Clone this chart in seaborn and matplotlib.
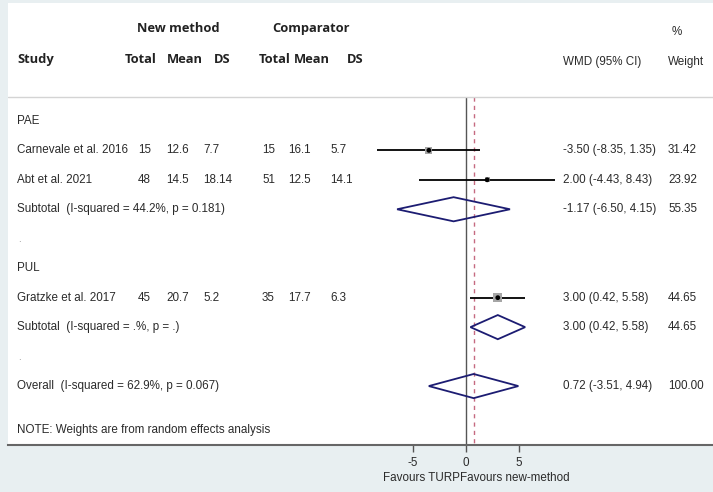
import seaborn as sns
import pandas as pd
import matplotlib.pyplot as plt
from matplotlib.patches import Polygon
import matplotlib.transforms as mtransforms

# study-level data
studies = ["Carnevale et al. 2016", "Abt et al. 2021", "Gratzke et al. 2017"]
groups = ["PAE", "PAE", "PUL"]
n_new = [15, 48, 45]
mean_new = ["12.6", "14.5", "20.7"]
sd_new = ["7.7", "18.14", "5.2"]
n_cmp = [15, 51, 35]
mean_cmp = ["16.1", "12.5", "17.7"]
sd_cmp = ["5.7", "14.1", "6.3"]
wmd = [-3.50, 2.00, 3.00]
ci_lo = [-8.35, -4.43, 0.42]
ci_hi = [1.35, 8.43, 5.58]
weight = [31.42, 23.92, 44.65]

# pooled estimates (PAE subtotal, PUL subtotal, overall)
pooled_labels = ["Subtotal  (I-squared = 44.2%, p = 0.181)",
                 "Subtotal  (I-squared = .%, p = .)",
                 "Overall  (I-squared = 62.9%, p = 0.067)"]
pooled_est = [-1.17, 3.00, 0.72]
pooled_lo = [-6.50, 0.42, -3.51]
pooled_hi = [4.15, 5.58, 4.94]
pooled_w = [55.35, 44.65, 100.00]

xticks = [-5, 0, 5]

BG = "#e8eff1"
NAVY = "#1c1c72"
TXT = "#2b2b2b"


def main():
    sns.set_style("white")
    plt.rcParams['font.family'] = ['Liberation Sans', 'DejaVu Sans']

    fig = plt.figure(figsize=(7.13, 4.92), dpi=100, facecolor=BG)
    ax = fig.add_axes([8 / 713, 47 / 492, 705 / 713, 442 / 492])
    ax.set_facecolor("white")

    # px -> effect units so that 0 sits at pixel 466, 10.6 px per unit
    def ux(p):
        return (p - 466) / 10.6

    ax.set_xlim(ux(8), ux(713))
    ax.set_ylim(11, -4)

    # row layout
    study_rows = [1, 2, 6]
    pooled_rows = [3, 7, 9]
    group_rows = {"PAE": 0, "PUL": 5}

    df = pd.DataFrame({"study": studies, "wmd": wmd, "lo": ci_lo,
                       "hi": ci_hi, "weight": weight, "row": study_rows})

    # reference lines
    ax.vlines(0, -0.8, 11, color="#555555", lw=1.0, zorder=1)
    ax.vlines(pooled_est[2], -0.8, 11, color="#c66a80", lw=1.0,
              linestyles=(0, (3, 3)), zorder=1)
    ax.axhline(-0.8, color="#d4d4d4", lw=1.0)

    # confidence intervals
    ax.hlines(df["row"], df["lo"], df["hi"], color="black", lw=1.3, zorder=2)
    sns.scatterplot(data=df, x="wmd", y="row", size="weight", sizes=(14, 42),
                    marker="s", color="#a6a6a6", edgecolor="none",
                    legend=False, ax=ax, zorder=3)
    sns.scatterplot(data=df, x="wmd", y="row", marker="o", s=12,
                    color="black", edgecolor="none", legend=False, ax=ax,
                    zorder=4)

    # diamonds
    h = 0.41
    for est, lo, hi, r in zip(pooled_est, pooled_lo, pooled_hi, pooled_rows):
        ax.add_patch(Polygon([(lo, r), (est, r - h), (hi, r), (est, r + h)],
                             closed=True, fill=False, edgecolor=NAVY,
                             lw=1.3, zorder=3))

    tr = mtransforms.blended_transform_factory(ax.transAxes, ax.transData)

    def fx(p):
        return (p - 8) / 705

    fs = 8.4
    hdr = dict(family=['Open Sans', 'DejaVu Sans'], fontweight='bold',
               fontsize=9.3, color="#222222", transform=tr, va='center')
    ax.text(fx(178), -3.15, "New method", ha='center', **hdr)
    ax.text(fx(311), -3.15, "Comparator", ha='center', **hdr)
    ax.text(fx(17), -2.07, "Study", ha='left', **hdr)
    for x0, lab in zip([141, 185, 222, 275, 312, 355],
                       ["Total", "Mean", "DS", "Total", "Mean", "DS"]):
        ax.text(fx(x0), -2.07, lab, ha='center', **hdr)
    body = dict(fontsize=fs, color=TXT, transform=tr, va='center')
    ax.text(fx(672), -3.0, "%", ha='left', **body)
    ax.text(fx(563), -2.0, "WMD (95% CI)", ha='left', **body)
    ax.text(fx(668), -2.0, "Weight", ha='left', **body)

    for g, r in group_rows.items():
        ax.text(fx(17), r, g, ha='left', **body)

    cols = [138, 166, 203, 262, 288, 330]
    for i, r in enumerate(study_rows):
        ax.text(fx(17), r, studies[i], ha='left', **body)
        vals = [str(n_new[i]), mean_new[i], sd_new[i],
                str(n_cmp[i]), mean_cmp[i], sd_cmp[i]]
        for x0, v in zip(cols, vals):
            ax.text(fx(x0), r, v, ha='left', **body)
        ax.text(fx(563), r, "%.2f (%.2f, %.2f)" % (wmd[i], ci_lo[i], ci_hi[i]),
                ha='left', **body)
        ax.text(fx(668), r, "%.2f" % weight[i], ha='left', **body)

    for i, r in enumerate(pooled_rows):
        ax.text(fx(17), r, pooled_labels[i], ha='left', **body)
        ax.text(fx(563), r, "%.2f (%.2f, %.2f)" % (pooled_est[i], pooled_lo[i],
                                                  pooled_hi[i]),
                ha='left', **body)
        ax.text(fx(668), r, "%.2f" % pooled_w[i], ha='left', **body)

    for r in [4, 8]:
        ax.text(fx(18), r, ".", ha='left', fontsize=7, color="#8a8a8a",
                transform=tr, va='center')
    ax.text(fx(17), 10.5, "NOTE: Weights are from random effects analysis",
            ha='left', **body)

    # axis
    for s in ["top", "left", "right"]:
        ax.spines[s].set_visible(False)
    ax.spines["bottom"].set_color("#666666")
    ax.spines["bottom"].set_linewidth(1.5)
    ax.set_yticks([])
    ax.set_xticks(xticks)
    ax.set_xticklabels([str(t) for t in xticks])
    ax.tick_params(axis="x", direction="out", length=5, width=1.0,
                   color="#555555", labelsize=fs, labelcolor=TXT, pad=4,
                   bottom=True)
    ax.set_xlabel("")
    ax.set_ylabel("")
    trx = mtransforms.blended_transform_factory(ax.transData, ax.transAxes)
    ax.text(-0.55, -0.075, "Favours TURP", ha='right', va='center',
            fontsize=fs, color=TXT, transform=trx)
    ax.text(-0.55, -0.075, "Favours new-method", ha='left', va='center',
            fontsize=fs, color=TXT, transform=trx)

    fig.savefig("out.png", dpi=100, facecolor=BG)


if __name__ == "__main__":
    main()
